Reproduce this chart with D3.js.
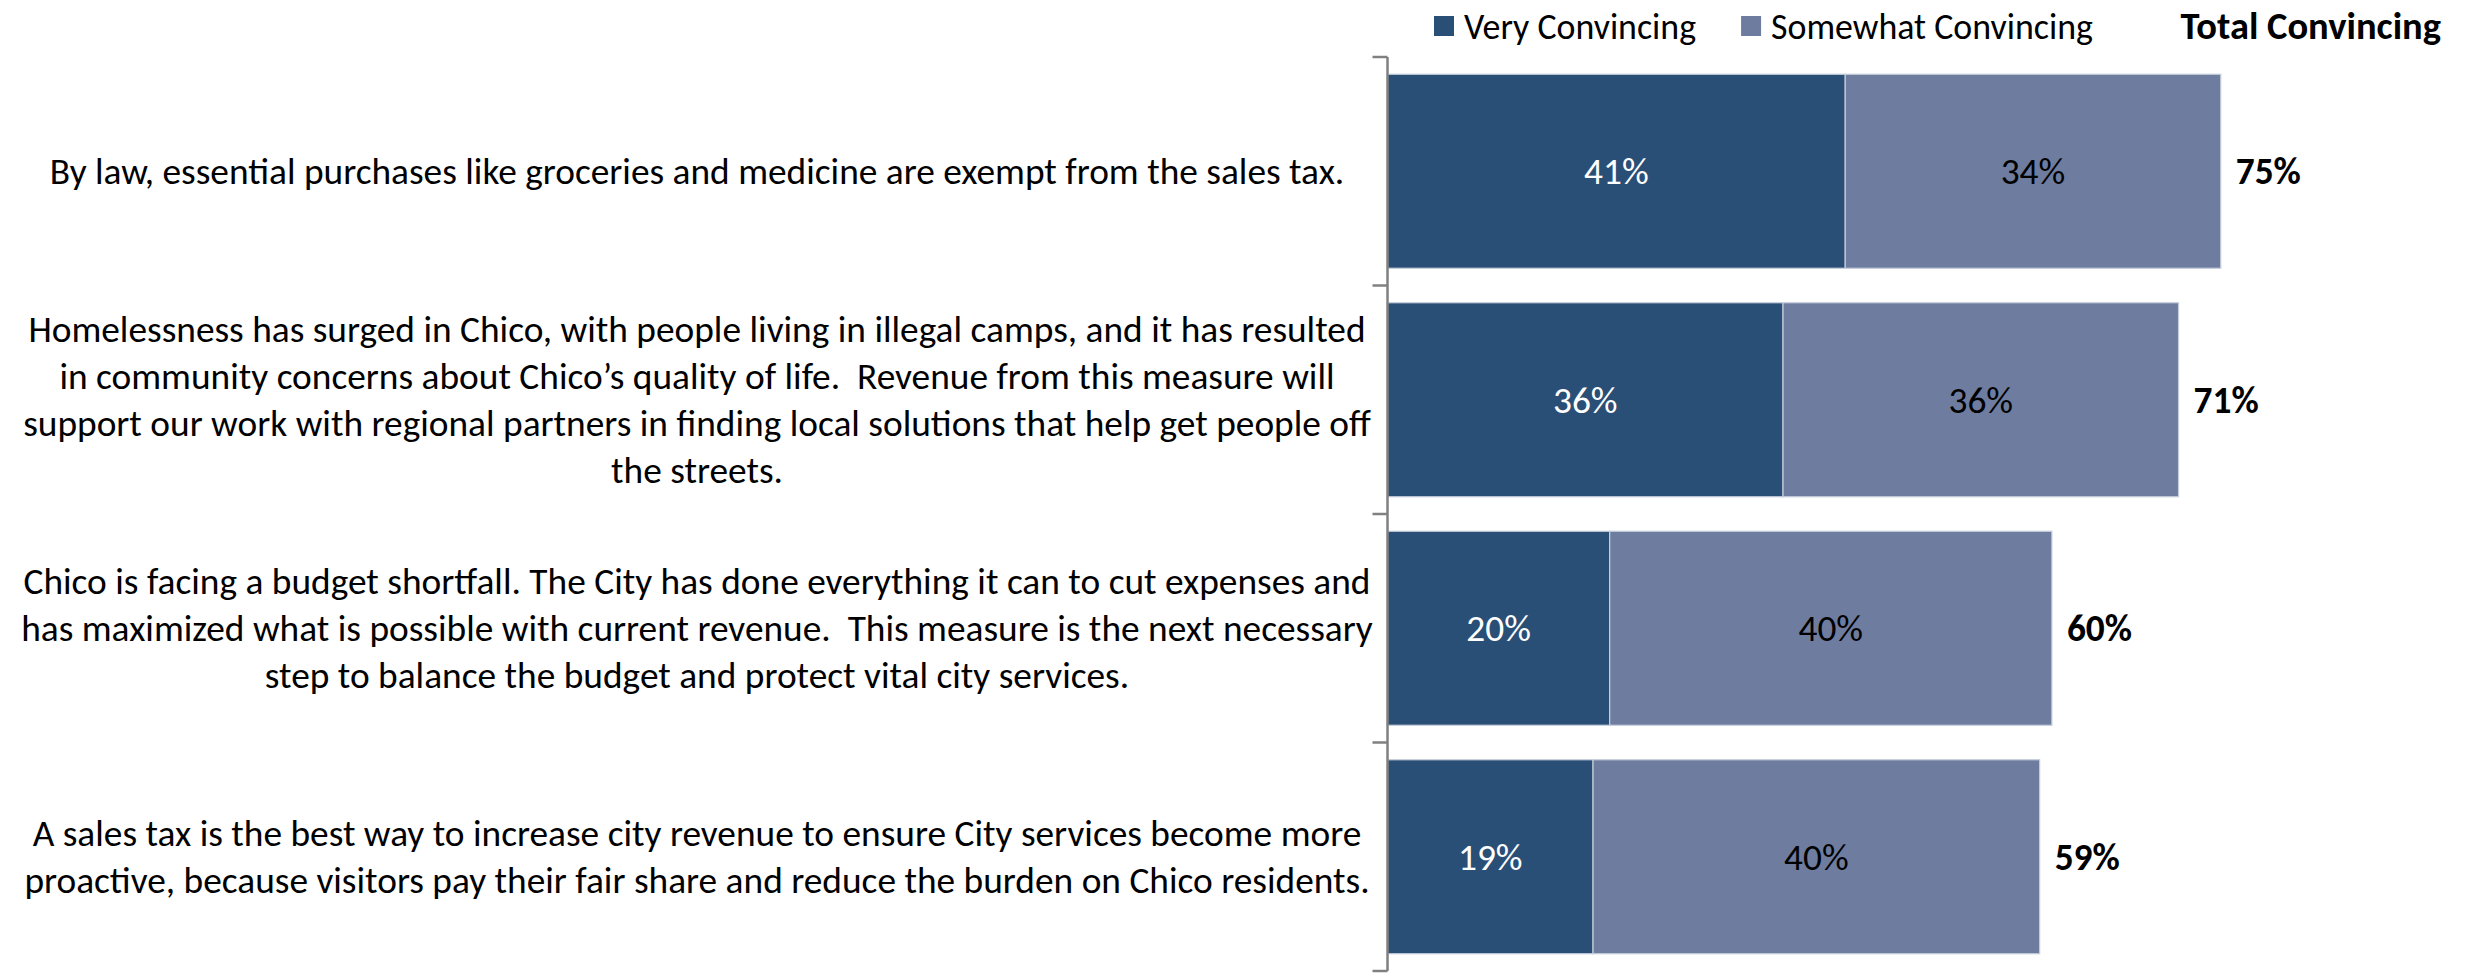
<!DOCTYPE html>
<html>
<head>
<meta charset="utf-8">
<script src="https://cdn.jsdelivr.net/npm/d3@7/dist/d3.min.js"></script>
<style>
    body { margin: 0; background: #fff; }
    text { font-family: "Liberation Sans Narrow", "Arial Narrow", Carlito, Calibri, "DejaVu Sans Condensed", sans-serif; }
</style>
</head>
<body>
<svg id="chart"></svg>
<script>
// Statements (already wrapped the way the slide shows them)
const statements = [
    ["By law, essential purchases like groceries and medicine are exempt from the sales tax."],
    ["Homelessness has surged in Chico, with people living in illegal camps, and it has resulted",
     "in community concerns about Chico\u2019s quality of life.  Revenue from this measure will",
     "support our work with regional partners in finding local solutions that help get people off",
     "the streets."],
    ["Chico is facing a budget shortfall. The City has done everything it can to cut expenses and",
     "has maximized what is possible with current revenue.  This measure is the next necessary",
     "step to balance the budget and protect vital city services."],
    ["A sales tax is the best way to increase city revenue to ensure City services become more",
     "proactive, because visitors pay their fair share and reduce the burden on Chico residents."]
];

const veryConvincing = [41.2, 35.6, 20.0, 18.5];
const somewhatConvincing = [33.8, 35.6, 39.8, 40.2];
const seriesNames = ["Very Convincing", "Somewhat Convincing"];
const totalTitle = "Total Convincing";

const COLORS = { VERY: "#2a4f77", SOMEWHAT: "#6e7c9f", AXIS: "#808080" };

const width = 2484, height = 973;
const fontSize = 36;
const lineHeight = 47;
const labelCenterX = 697;

const svg = d3.select("#chart").attr("width", width).attr("height", height);

// Scales
const y = d3.scaleBand()
    .domain(d3.range(statements.length))
    .range([57, 971])
    .paddingInner(0.151)
    .paddingOuter(0.0755);
const x = d3.scaleLinear().domain([0, 100]).range([1387.5, 1387.5 + 1111]);

// Stack data
const rows = statements.map((s, i) => ({
    i: i,
    very: veryConvincing[i],
    somewhat: somewhatConvincing[i],
}));
const stack = d3.stack().keys(["very", "somewhat"]);
const series = stack(rows);
const fills = [COLORS.VERY, COLORS.SOMEWHAT];
const textFills = ["#fff", "#000"];

// Bars
const layers = svg.selectAll(".layer")
    .data(series)
    .enter()
    .append("g")
    .attr("class", "layer")
    .attr("fill", (d, k) => fills[k]);

layers.selectAll("rect")
    .data(d => d)
    .enter()
    .append("rect")
    .attr("x", d => x(d[0]))
    .attr("y", d => y(d.data.i))
    .attr("width", d => x(d[1]) - x(d[0]))
    .attr("height", y.bandwidth())
    .attr("stroke", "#c6cedb")
    .attr("stroke-width", 1.2);

// Segment labels
layers.each(function(s, k) {
    d3.select(this).selectAll(".segLabel")
        .data(s)
        .enter()
        .append("text")
        .attr("class", "segLabel")
        .attr("x", d => (x(d[0]) + x(d[1])) / 2)
        .attr("y", d => y(d.data.i) + y.bandwidth() / 2)
        .attr("dy", "0.35em")
        .attr("text-anchor", "middle")
        .attr("font-size", fontSize)
        .attr("fill", textFills[k])
        .text(d => Math.round(d[1] - d[0]) + "%");
});

// Totals
svg.selectAll(".total")
    .data(rows)
    .enter()
    .append("text")
    .attr("class", "total")
    .attr("x", d => x(d.very + d.somewhat) + 15)
    .attr("y", d => y(d.i) + y.bandwidth() / 2)
    .attr("dy", "0.35em")
    .attr("font-size", fontSize)
    .attr("font-weight", "bold")
    .text(d => Math.round(d.very + d.somewhat) + "%");

// Axis line with ticks between categories
const axis = svg.append("g").attr("stroke", COLORS.AXIS).attr("stroke-width", 2.5);
axis.append("line")
    .attr("x1", x(0)).attr("x2", x(0))
    .attr("y1", y.range()[0]).attr("y2", y.range()[1]);
axis.selectAll(".tick")
    .data(d3.range(statements.length + 1))
    .enter()
    .append("line")
    .attr("x1", x(0) - 15).attr("x2", x(0))
    .attr("y1", i => y.range()[0] + i * y.step())
    .attr("y2", i => y.range()[0] + i * y.step());

// Category labels
const labels = svg.selectAll(".catLabel")
    .data(statements)
    .enter()
    .append("text")
    .attr("class", "catLabel")
    .attr("text-anchor", "middle")
    .attr("font-size", fontSize)
    .attr("fill", "#000")
    .attr("xml:space", "preserve")
    .style("white-space", "pre");

labels.each(function(lines, i) {
    const cy = y(i) + y.bandwidth() / 2;
    const top = cy - (lines.length - 1) * lineHeight / 2;
    d3.select(this).selectAll("tspan")
        .data(lines)
        .enter()
        .append("tspan")
        .attr("x", labelCenterX)
        .attr("y", (d, j) => top + j * lineHeight)
        .attr("dy", "0.35em")
        .text(d => d);
});

// Fit the fallback font to the width of the first statement line
const firstLine = labels.select("tspan").node();
const scale = Math.min(1295 / firstLine.getComputedTextLength(), 1.15);
svg.selectAll("text").attr("font-size", fontSize * scale);

// Legend
const legendSize = fontSize * scale * 0.96;
const legend = svg.append("g").attr("transform", "translate(1434, 26)");
let lx = 0;
seriesNames.forEach((name, k) => {
    legend.append("rect")
        .attr("x", lx).attr("y", -10)
        .attr("width", 20).attr("height", 20)
        .attr("fill", fills[k]);
    const t = legend.append("text")
        .attr("x", lx + 30)
        .attr("dy", "0.35em")
        .attr("font-size", legendSize)
        .text(name);
    lx += 30 + t.node().getComputedTextLength() + 45;
});
svg.append("text")
    .attr("x", 2441)
    .attr("y", 26)
    .attr("dy", "0.35em")
    .attr("text-anchor", "end")
    .attr("font-size", fontSize * scale * 1.03)
    .attr("font-weight", "bold")
    .text(totalTitle);
</script>
</body>
</html>
